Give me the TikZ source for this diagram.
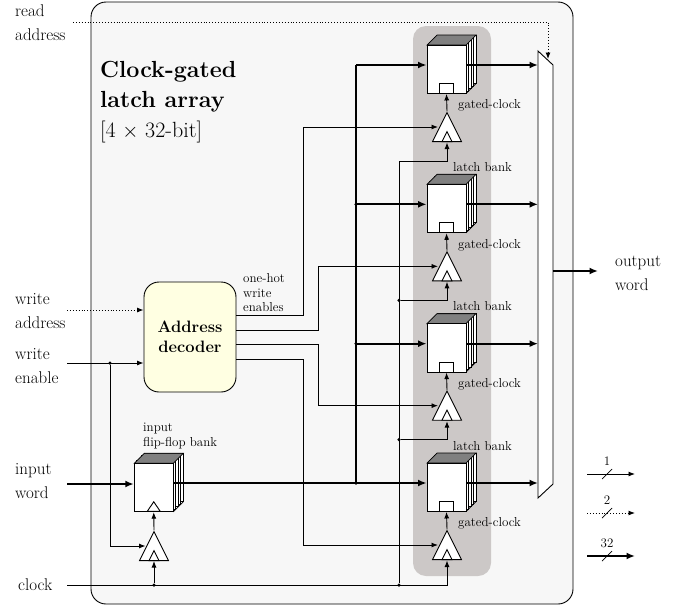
\documentclass[tikz,border=0pt]{standalone}
\usepackage{amsmath}
\usetikzlibrary{arrows.meta,shapes.geometric}
\definecolor{panel}{HTML}{F7F7F7}
\definecolor{shade}{HTML}{CCC8C7}
\definecolor{deco}{HTML}{FFFFE2}
\definecolor{stacktop}{HTML}{808080}
\tikzset{
  x=1pt,y=-1pt,
  thin line/.style={line width=0.9pt,-{Latex[length=6.5pt,width=5pt]}},
  plain line/.style={line width=0.9pt},
  thick line/.style={line width=1.9pt,-{Latex[length=8.5pt,width=7pt]}},
  plain thick/.style={line width=1.9pt},
  dot line/.style={line width=0.9pt,dotted,-{Latex[length=6.5pt,width=5pt]}},
  junction/.style={circle,fill=black,inner sep=0pt,minimum size=3.5pt},
  front/.style={draw=black,line width=0.9pt,fill=white,inner sep=0pt,minimum width=39pt,minimum height=48.5pt},
  small/.style={font=\fontsize{13}{14.5}\selectfont,inner sep=0pt,align=left},
  big/.style={font=\fontsize{17}{24}\selectfont,inner sep=0pt,align=left},
  gate/.style={draw=black,line width=0.9pt,fill=white,isosceles triangle,isosceles triangle stretches,
     shape border rotate=90,inner sep=0pt,minimum width=29pt,minimum height=29pt,anchor=south},
  gatein/.style={draw=black,line width=0.9pt,fill=white,isosceles triangle,isosceles triangle stretches,
     shape border rotate=90,inner sep=0pt,minimum width=10pt,minimum height=10pt,anchor=south},
}
\newcommand{\stackat}[2]{% front box centre
  \begin{scope}[shift={(#1,#2)}]
    \foreach \k in {10,7.5,5,2.5}{
      \draw[line width=0.7pt,fill=white] (-19.5+\k,-24.25-\k) rectangle (19.5+\k,24.25-\k);
    }
    \fill[stacktop,draw=black,line width=0.7pt] (-19.5,-24.25) -- (-9.5,-34.25) -- (29.5,-34.25) -- (19.5,-24.25) -- cycle;
    \draw[line width=0.7pt] (19.5,24.25) -- (29.5,14.25);
  \end{scope}}
\begin{document}
\begin{tikzpicture}
\useasboundingbox (0,0) rectangle (691,608);
% panels
\node[draw=black,line width=0.9pt,fill=panel,rounded corners=15pt,inner sep=0pt,minimum width=482pt,minimum height=602pt] (panel) at (332,303) {};
\node[fill=shade,rounded corners=13pt,inner sep=0pt,minimum width=78pt,minimum height=550pt] (shadow) at (452,301) {};

% mux
\coordinate (muxA) at (538,51);
\coordinate (muxB) at (553,65);
\coordinate (muxC) at (553,484);
\coordinate (muxD) at (538,498);
\draw[line width=0.9pt,fill=white] (muxA) -- (muxB) -- (muxC) -- (muxD) -- cycle;

% latch banks and clock gates
\foreach \n/\y in {A/0,B/139.33,C/278.67,D/418}{
  \stackat{446.5}{69.25+\y}
  \node[front] (bank\n) at (446.5,69.25+\y) {};
  \node[draw=black,line width=0.9pt,fill=white,inner sep=0pt,minimum width=14pt,minimum height=10pt] (clk\n) at (446.5,88.5+\y) {};
  \node[gate] (icg\n) at (447,142+\y) {};
  \node[gatein] (icgin\n) at (447,142+\y) {};
  \coordinate (en\n) at (438,127+\y);
  \coordinate (out\n) at (538,65+\y);
  \coordinate (in\n) at (447,142.5+\y);
  \draw[thin line] (icg\n.north) -- (bank\n.south);
  \draw[thick line] (bank\n.east |- 0,65+\y) -- (out\n);
  \node[small,anchor=west] (gc\n) at (458,105.5+\y) {gated-clock};
}
\foreach \n/\y in {A/0,B/139.33,C/279}{
  \node[small,anchor=center] (lb\n) at (482.5,167+\y) {latch bank};
}

% input bank
\stackat{153.75}{487.5}
\node[front] (ibank) at (153.75,487.5) {};
\node[draw=black,line width=0.9pt,fill=white,isosceles triangle,isosceles triangle stretches,shape border rotate=90,inner sep=0pt,minimum width=13pt,minimum height=9.5pt,anchor=south] (ick) at (153.75,511.75) {};
\node[gate] (iicg) at (154,561) {};
\node[gatein] (iicgin) at (154,561) {};
\draw[thin line] (iicg.north) -- (ibank.south);

% decoder
\node[draw=black,line width=0.9pt,fill=deco,rounded corners=15pt,inner sep=0pt,minimum width=92pt,minimum height=110pt,
      align=center,font=\fontsize{16.5}{20}\selectfont\bfseries] (dec) at (190,337) {Address\\decoder};

% coordinates
\coordinate (ra) at (73,22);
\coordinate (raC) at (548,22);
\coordinate (raE) at (548,59);
\coordinate (wa) at (67,310);
\coordinate (we) at (67,363);
\coordinate (iw) at (67,484);
\coordinate (ck) at (67,585);
\coordinate (outS) at (553,271);
\coordinate (outE) at (598,271);
\coordinate (bus) at (356,483);
\coordinate (decA) at (236,315);
\coordinate (decB) at (236,330);
\coordinate (decC) at (236,344);
\coordinate (decD) at (236,359);

% read/write inputs
\draw[dot line] (ra) -- (raC) -- (raE);
\draw[dot line] (wa) -- (dec.west |- wa);
\draw[thin line] (we) -- (dec.west |- we);
\draw[thick line] (iw) -- (ibank.west |- iw);

% write enable to input gate
\node[junction] (jwe) at (110,363) {};
\coordinate (ienC) at (145.5,546);
\draw[thin line] (jwe) |- (ienC);

% data bus
\draw[plain thick] (ibank.east |- bus) -- (bus);
\draw[thick line] (bus) -- (bankD.west |- bus);
\draw[plain thick] (bus) -- (356,65);
\foreach \n/\y in {A/65,B/204.33,C/343.67}{
  \draw[thick line] (356,\y) -- (bank\n.west |- 356,\y);
}
\node[junction] (jB) at (356,204.33) {};
\node[junction] (jC) at (356,343.67) {};
\node[junction] (jD) at (bus) {};

% enables
\draw[thin line] (decA) -| (303,127) -- (enA);
\draw[thin line] (decB) -| (318,266.33) -- (enB);
\draw[thin line] (decC) -| (318,405.67) -- (enC);
\draw[thin line] (decD) -| (303,545) -- (enD);

% clock
\draw[thin line] (ck) -| (inD);
\node[junction] (jck) at (154,585) {};
\node[junction] (jck2) at (399,585) {};
\draw[thin line] (jck) -- (iicg.south);
\draw[plain line] (jck2) -- (399,161);
\draw[thin line] (399,161) -| (inA);
\node[junction] (jck3) at (399,300.33) {};
\node[junction] (jck4) at (399,439.67) {};
\draw[thin line] (jck3) -| (inB);
\draw[thin line] (jck4) -| (inC);

% output
\draw[thick line] (outS) -- (outE);

% outer labels
\node[big,anchor=west] (lra) at (15,23) {read\\address};
\node[big,anchor=west] (lwa) at (15,311) {write\\address};
\node[big,anchor=west] (lwe) at (15,366) {write\\enable};
\node[big,anchor=west] (liw) at (15,481) {input\\word};
\node[big,anchor=west] (lck) at (18,585) {clock};
\node[big,anchor=west] (lout) at (615,273) {output\\word};

% title
\node[inner sep=0pt,anchor=base west,font=\fontsize{23.3}{30}\selectfont\bfseries] (title1) at (100,77) {Clock-gated};
\node[inner sep=0pt,anchor=base west,font=\fontsize{23.3}{30}\selectfont\bfseries] (title2) at (100,107) {latch array};
\node[inner sep=0pt,anchor=base west,font=\fontsize{22}{30}\selectfont] (title3) at (100,137) {[4 $\times$ 32-bit]};

% small labels
\node[small,anchor=west] (lone) at (243,293) {one-hot\\write\\enables};
\node[small,anchor=west] (liff) at (143,436) {input\\flip-flop bank};

% legend
\coordinate (k1a) at (587,474); \coordinate (k1b) at (635,474);
\coordinate (k2a) at (587,513); \coordinate (k2b) at (635,513);
\coordinate (k3a) at (587,556); \coordinate (k3b) at (635,556);
\draw[thin line] (k1a) -- (k1b);
\draw[dot line] (k2a) -- (k2b);
\draw[thick line] (k3a) -- (k3b);
\foreach \y in {474,513,556}{\draw[line width=0.7pt] (602,\y+5) -- (612,\y-5);}
\node[small,anchor=center] (l1) at (607,461) {1};
\node[small,anchor=center] (l2) at (607,500) {2};
\node[small,anchor=center] (l3) at (607,543) {32};
\end{tikzpicture}
\end{document}
